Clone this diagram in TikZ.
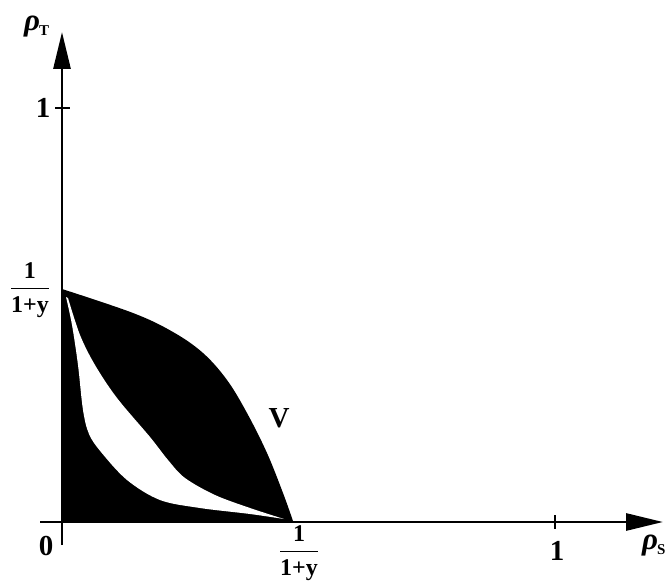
\documentclass[tikz,border=0pt]{standalone}
\usepackage{amsmath}
\usepackage{fontspec}
\setmainfont{Liberation Serif}
\usetikzlibrary{arrows.meta}
\begin{document}
\begin{tikzpicture}[x=1pt,y=-1pt,
  axis/.style={line width=2.8pt,-{Triangle[length=37pt,width=17pt]}},
  tick/.style={line width=1.8pt},
  lab/.style={font=\fontsize{29}{31}\selectfont\bfseries, inner sep=0pt},
  rho/.style={font=\fontsize{31}{33}\selectfont\bfseries\itshape, inner sep=0pt},
  frac/.style={font=\fontsize{24}{26}\selectfont\bfseries, inner sep=0pt}]
\useasboundingbox (0,0) rectangle (670,583);
% regions
\fill[black] plot[smooth,tension=0.6] coordinates {(62,289) (133,313) (173,332) (203,353) (227,380) (247,413) (267,453) (283,493) (293,521)} -- (62,522) -- cycle;
\fill[white] plot[smooth,tension=0.55] coordinates {(66,297) (72,325) (78,365) (83,410) (89,434) (101,452) (127,480) (160,500) (200,508) (250,514) (284,519)}
  -- plot[smooth,tension=0.55] coordinates {(284,519) (250,508) (215,495) (185,478) (168,460) (150,437) (117,398) (95,365) (80,335) (68,298)} -- cycle;
% axes
\coordinate (xs) at (40,522);
\coordinate (xe) at (663,522);
\coordinate (ys) at (62,545);
\coordinate (ye) at (62,32);
\draw[axis] (xs) -- (xe);
\draw[axis] (ys) -- (ye);
% ticks
\coordinate (tx1a) at (555,515); \coordinate (tx1b) at (555,529);
\draw[tick] (tx1a) -- (tx1b);
\coordinate (ty1a) at (55,108); \coordinate (ty1b) at (70,108);
\draw[tick] (ty1a) -- (ty1b);
% labels
\node[rho,anchor=base west] (rt) at (24,31) {ρ\kern-1pt\raisebox{-5pt}{\fontsize{15}{16}\selectfont\upshape T}};
\node[rho,anchor=base west] (rs) at (642,549) {ρ\kern-1pt\raisebox{-5pt}{\fontsize{15}{16}\selectfont\upshape S}};
\node[lab] (oney) at (43,108) {1};
\node[lab] (zero) at (46,546) {0};
\node[lab] (onex) at (557,551) {1};
\node[lab] (V) at (279,418) {V};
\node[frac] (fy) at (30,290) {$\dfrac{\textbf{1}}{\textbf{1+y}}$};
\node[frac] (fx) at (299,553) {$\dfrac{\textbf{1}}{\textbf{1+y}}$};
\end{tikzpicture}
\end{document}
